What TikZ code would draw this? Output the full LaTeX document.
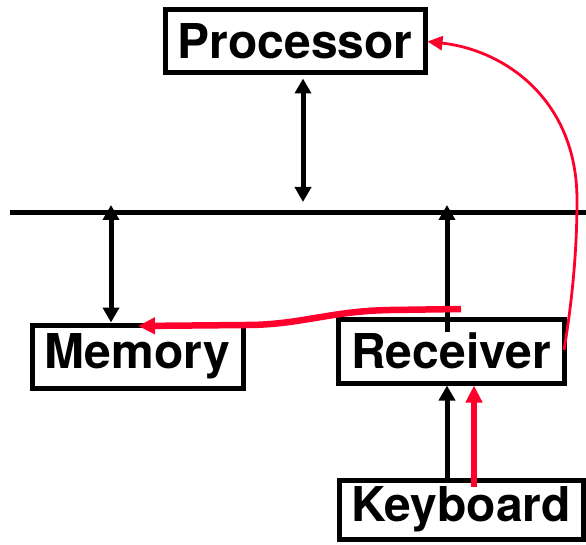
\documentclass[tikz,border=0pt]{standalone}
\usepackage{fontspec}
\setmainfont{TeX Gyre Heros}
\usetikzlibrary{arrows.meta}
\definecolor{sigred}{RGB}{255,0,45}
\tikzset{
  box/.style={draw=black, line width=5pt, inner sep=0pt, font=\fontsize{48}{56}\selectfont\bfseries},
  blk/.style={draw=black, line width=5pt},
  btip/.style={-{Triangle[length=15pt,width=16pt]}},
  bboth/.style={{Triangle[length=15pt,width=16pt]}-{Triangle[length=15pt,width=16pt]}},
  redthick/.style={draw=sigred, line width=6.5pt, -{Triangle[length=17pt,width=16pt]}},
  redthin/.style={draw=sigred, line width=2.8pt, -{Triangle[length=15pt,width=14pt]}}
}
\begin{document}
\begin{tikzpicture}[x=1pt,y=-1pt]
\useasboundingbox (0,0) rectangle (586,545);
% boxes
\node[box, minimum width=260pt, minimum height=63pt] (proc) at (295,41.5) {Processor};
\node[box, minimum width=211pt, minimum height=63pt] (mem) at (137.5,356.5) {Memory};
\node[box, minimum width=226pt, minimum height=64pt] (recv) at (451,351) {Receiver};
\node[box, minimum width=244pt, minimum height=59pt] (kbd) at (461,509.5) {Keyboard};
% bus
\coordinate (busL) at (10,212.5);
\coordinate (busR) at (586,212.5);
\draw[blk] (busL) -- (busR);
% bus taps
\coordinate (pb) at (303,202);
\coordinate (mb) at (111,205);
\coordinate (rb) at (447,205);
\draw[blk, bboth, shorten <=3pt] (proc.south -| pb) -- (pb);
\draw[blk, bboth] (mb) -- (mb |- mem.north);
\draw[blk, btip] (rb |- recv.north) ++(0,15) -- (rb);
\draw[blk, btip] (kbd.north -| rb) -- (recv.south -| rb);
% red signals
\coordinate (kr) at (474,487);
\draw[redthick] (kr) -- (kr |- recv.south);
\coordinate (rs) at (461,309);
\coordinate (mt) at (138,326);
\draw[redthick] (rs) -- (390,310) .. controls (330,311) and (300,325) .. (246,325) -- (mt);
\coordinate (re) at (564,350);
\draw[redthin] (re) .. controls (574,290) and (577,240) .. (577,200)
  .. controls (577,100) and (505,50) .. (proc.east);
\end{tikzpicture}
\end{document}
